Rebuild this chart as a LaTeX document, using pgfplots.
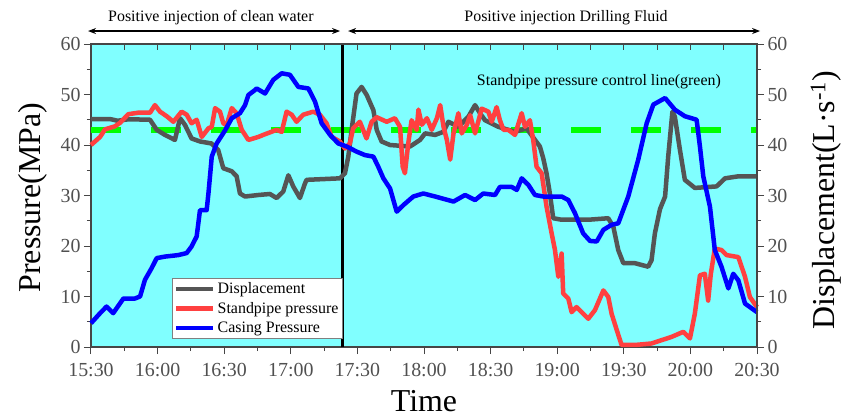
\documentclass[border=0pt]{standalone}
\usepackage{fontspec}
\setmainfont{Liberation Serif}
\usepackage{pgfplots}
\pgfplotsset{compat=1.18}
\usetikzlibrary{arrows.meta}
\definecolor{bgc}{RGB}{128,255,255}
\definecolor{dgrey}{RGB}{85,85,85}
\definecolor{sred}{RGB}{255,64,64}
\definecolor{cblue}{RGB}{0,0,255}
\definecolor{cgreen}{RGB}{0,255,0}
\definecolor{axc}{RGB}{70,70,70}
\definecolor{tlc}{RGB}{80,80,80}
\begin{document}
\begin{tikzpicture}
\pgfplotsset{
  base/.style={scale only axis, width=666bp, height=303bp, xmin=0, xmax=300, ymin=0, ymax=60,
    axis line style={axc, line width=1.2bp}, tick style={axc, line width=1bp},
    ticklabel style={font=\fontsize{20}{24}\selectfont, text=tlc},
    /pgf/number format/assume math mode=true},
}
\begin{axis}[base,
  axis background/.style={fill=bgc},
  clip=false,
  xtick={0,30,...,300},
  xticklabels={15:30,16:00,16:30,17:00,17:30,18:00,18:30,19:00,19:30,20:00,20:30},
  minor xtick={15,45,...,285},
  ytick={0,10,...,60},
  minor ytick={5,15,...,55},
  xtick pos=bottom, ytick pos=left,
  tick align=outside,
  major tick length=7bp, minor tick length=4bp,
  xticklabel style={yshift=-6bp},
  xlabel={Time}, ylabel={Pressure(MPa)},
  label style={font=\fontsize{32}{38}\selectfont},
  xlabel style={at={(axis description cs:0.5,-0.178)}, anchor=center},
  ylabel style={at={(axis description cs:-0.087,0.493)}, anchor=center},
  legend style={at={(rel axis cs:0.1216,0.0297)}, anchor=south west, draw=gray, fill=white,
    font=\fontsize{16}{18}\selectfont, inner sep=2bp, row sep=3bp},
  legend cell align=left,
  legend image code/.code={\draw[#1] (0bp,0bp) -- (37bp,0bp);},
]
\addplot[cgreen, line width=6bp, dash pattern=on 30bp off 30bp, forget plot] coordinates {(0,43)(300,43)};
\addplot[black, line width=3bp, forget plot] coordinates {(113.5,0)(113.5,60)};
\addplot[dgrey, line width=4.5bp, line join=round] coordinates {
(0,45.1)(9,45.1)(12,44.8)(17,45.1)(26.6,45.0)(29.6,43.0)(33.3,42.0)(37.8,41.0)(40.1,45.3)(42.3,44.0)(45.3,41.3)(49.1,40.7)(54.3,40.3)(57.3,39.0)(59.6,35.4)(63.4,34.8)(65.6,33.8)(67.1,30.4)(69.4,29.8)(75.4,30.1)(80.6,30.3)(83.6,29.5)(86.6,30.8)(88.9,34.0)(91.1,31.8)(94.1,29.5)(96.4,32.4)(97.1,33.1)(112.1,33.4)(114.4,34.4)(115.9,37.7)(117.4,43.0)(119.6,50.2)(121.9,51.5)(124.2,49.9)(127.2,46.9)(128.7,43.0)(130.9,40.7)(134.7,40.0)(143.7,39.7)(148.2,41.0)(150.5,42.3)(155.0,42.0)(158.7,42.6)(161.0,44.6)(165.5,43.6)(170.0,45.6)(173.0,47.9)(175.2,46.3)(177.5,44.9)(183.5,43.6)(191.0,42.6)(196.2,43.3)(200.0,41.0)(202.2,39.7)(203.7,37.4)(205.2,34.4)(206.7,30.4)(208.2,25.5)(212,25.2)(224,25.2)(233,25.5)(235.3,23.8)(237.5,19.2)(239.8,16.6)(245,16.6)(251,15.9)(252.5,17.2)(254,22.5)(256.3,27.3)(258.6,29.8)(260,37.7)(261.9,46.6)(263,45.6)(265.3,39.0)(267.5,33.1)(272,31.5)(281.8,31.8)(285.6,33.4)(291.6,33.8)(300,33.8)};
\addlegendentry{Displacement}
\addplot[sred, line width=4.5bp, line join=round] coordinates {
(0,40.0)(4.1,41.6)(6.3,43.1)(10.8,43.7)(13.1,44.4)(16.8,46.1)(21.3,46.4)(26.6,46.4)(28.8,47.9)(31.1,46.6)(34.1,45.7)(37.1,44.6)(40.8,46.6)(43.1,46.0)(45.3,44.3)(47.6,45.0)(49.9,41.6)(52.9,43.3)(54.4,43.6)(55.9,47.3)(58.1,46.6)(59.6,44.3)(61.1,43.9)(63.4,47.3)(65.6,46.3)(67.9,43.0)(70.9,41.0)(75.4,41.6)(77.6,42.0)(83.6,43.0)(85.9,42.6)(88.1,46.6)(90.4,46.0)(92.6,44.6)(95.6,46.0)(100.1,46.6)(103.1,46.0)(106.1,44.3)(108.4,41.6)(112.1,40.7)(114.4,39.3)(116.6,40.3)(118.1,43.3)(121.1,44.6)(124.1,41.3)(126.4,44.6)(128.7,45.5)(133.2,44.6)(136.9,45.3)(139.2,43.6)(140.4,35.7)(141.4,34.4)(142.9,40.3)(144.4,44.9)(146.7,43.0)(147.5,47.0)(149.0,44.0)(151.3,45.3)(153.5,43.0)(155.8,45.3)(157.3,47.9)(158.8,43.6)(160.3,41.0)(161.8,37.1)(163.3,42.3)(165.5,46.3)(167.0,42.3)(169.3,44.0)(170.8,45.9)(173.0,42.3)(176.0,47.2)(179.0,46.6)(180.5,44.6)(182.7,47.5)(184.2,44.9)(185.8,43.0)(188.0,43.0)(191.0,42.0)(194.0,46.3)(195.5,43.6)(197.7,44.9)(199.2,41.0)(200.7,35.7)(203.0,34.4)(205.2,27.8)(207.5,22.5)(209.0,19.2)(210.5,13.9)(212.0,18.5)(212.7,10.6)(215.0,9.6)(216.5,6.9)(218.7,7.9)(221.0,6.9)(224.0,5.6)(227.0,7.3)(230.8,11.2)(233.0,9.9)(234.5,6.6)(236.8,3.4)(239.0,0.4)(245.0,0.4)(252.5,0.7)(261.5,2.0)(266.8,3.0)(269.8,1.7)(272.0,6.6)(274.3,14.2)(276.5,14.5)(278.0,9.2)(279.2,14.5)(281.0,19.5)(284.0,19.2)(286.3,18.2)(291.6,17.8)(294.6,13.9)(296.8,9.9)(300,7.9)};
\addlegendentry{Standpipe pressure}
\addplot[cblue, line width=4.5bp, line join=round] coordinates {
(0,4.7)(4.1,6.7)(7.0,8.0)(10.0,6.7)(14.6,9.6)(19.8,9.6)(22.1,10.0)(24.3,13.3)(27.3,15.6)(29.6,17.6)(33.3,17.9)(39.3,18.2)(43.1,18.6)(45.3,19.9)(47.6,21.9)(49.1,27.1)(52.1,27.1)(52.9,30.4)(54.4,37.7)(56.6,40.3)(60.4,42.9)(63.4,45.3)(67.1,46.3)(69.4,47.9)(70.9,49.9)(73.9,50.9)(74.6,51.2)(78.4,50.2)(82.1,52.9)(85.9,54.2)(89.6,53.9)(93.4,51.5)(97.9,51.2)(100.9,48.6)(103.9,44.3)(107.7,42.0)(111.4,40.3)(115.2,39.7)(119.6,38.7)(123.4,38.0)(127.2,37.7)(129.4,35.7)(131.7,33.4)(134.7,31.4)(137.7,26.8)(140.7,28.1)(145.2,29.8)(149.7,30.4)(155.0,29.8)(163.3,28.8)(168.5,30.1)(173.0,29.1)(176.7,30.4)(182.0,30.1)(184.2,31.7)(189.5,31.7)(191.8,31.1)(194.0,33.4)(197.0,32.1)(200.0,30.1)(203.7,29.8)(212.0,29.8)(215.0,29.1)(218.0,26.5)(221.7,22.5)(224.8,21.0)(227.8,20.9)(230.8,23.2)(234.5,24.2)(237.5,24.5)(242.0,29.8)(246.5,37.1)(250.3,44.3)(253.3,48.0)(258.6,49.3)(263.0,47.0)(267.5,45.7)(272.8,45.0)(274.3,39.7)(275.8,33.8)(278.8,27.8)(281.0,19.2)(284.0,15.9)(287.1,11.6)(289.3,14.5)(291.6,13.2)(294.6,8.6)(300,6.9)};
\addlegendentry{Casing Pressure}
\draw[{Stealth[length=8bp,width=6bp]}-{Stealth[length=8bp,width=6bp]}, line width=1.5bp] (axis cs:-1.35,62.57) -- (axis cs:112.2,62.57);
\draw[{Stealth[length=8bp,width=6bp]}-{Stealth[length=8bp,width=6bp]}, line width=1.5bp] (axis cs:115.8,62.57) -- (axis cs:301.4,62.57);
\node[font=\fontsize{16}{19}\selectfont, anchor=base] at (axis cs:54,64.55) {Positive injection of clean water};
\node[font=\fontsize{16}{19}\selectfont, anchor=base] at (axis cs:214,64.55) {Positive injection Drilling Fluid};
\node[font=\fontsize{16}{19}\selectfont, anchor=center] at (axis cs:228.8,52.5) {Standpipe pressure control line(green)};
\end{axis}
\begin{axis}[base,
  axis x line*=top, axis y line=none,
  xtick={0,15,...,300}, xticklabels={},
  tick align=inside, major tick length=6bp,
]
\end{axis}
\begin{axis}[base,
  axis y line*=right, axis x line=none,
  ytick={0,10,...,60}, minor ytick={5,15,...,55},
  tick align=outside, major tick length=7bp, minor tick length=4bp,
  ylabel={Displacement(L\textperiodcentered s\textsuperscript{-1})},
  label style={font=\fontsize{32}{38}\selectfont},
  ylabel style={at={(axis description cs:1.1036,0.485)}, anchor=center, rotate=0},
]
\end{axis}
\pgfresetboundingbox
\path[use as bounding box] (-91bp,-73bp) rectangle (750bp,347bp);
\end{tikzpicture}
\end{document}
